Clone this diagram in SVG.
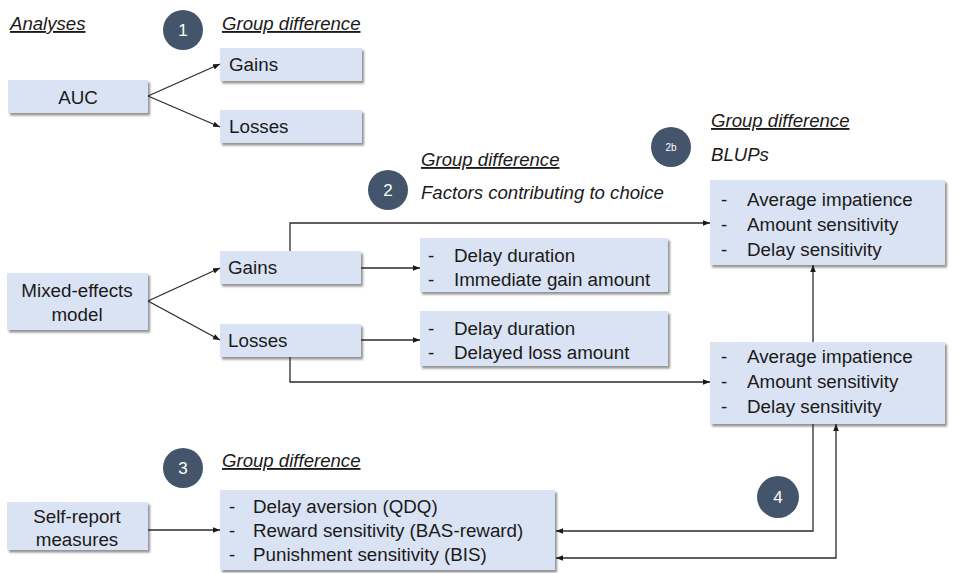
<svg xmlns="http://www.w3.org/2000/svg" width="959" height="573" viewBox="0 0 959 573">
<style>
.box{fill:#dae3f3;filter:url(#sh)}
.t{font-family:"Liberation Sans",Arial,sans-serif;font-size:18.8px;fill:#1a1a1a}
.c{text-anchor:middle}
.h{font-family:"Liberation Sans",Arial,sans-serif;font-size:18.6px;font-style:italic;fill:#1a1a1a}
.u{text-decoration:underline}
.circ{fill:#44546a}
.ct{font-family:"Liberation Sans",Arial,sans-serif;font-size:17px;fill:#ffffff;text-anchor:middle}
.ln{fill:none;stroke:#2b2b2b;stroke-width:1.3}
</style>
<defs>
<filter id="sh" x="-10%" y="-10%" width="130%" height="140%">
<feDropShadow dx="2" dy="2.5" stdDeviation="1.3" flood-color="#7f7f7f" flood-opacity="0.85"/>
</filter>
<marker id="ar" viewBox="0 0 10 10" refX="10" refY="5" markerWidth="7" markerHeight="7" orient="auto-start-reverse" markerUnits="userSpaceOnUse">
<path d="M0,1 L10,5 L0,9 z" fill="#1a1a1a"/>
</marker>
</defs>

<text class="h u" x="10" y="30">Analyses</text>

<g id="circle1"><circle class="circ" cx="183" cy="30" r="20"/><text class="ct" x="183" y="36">1</text></g>
<text class="h u" x="222" y="30">Group difference</text>

<g id="auc"><rect class="box" x="8" y="80" width="140" height="33"/><text class="t c" x="78" y="104">AUC</text></g>
<g id="gains1"><rect class="box" x="220" y="48" width="142" height="33"/><text class="t" x="229" y="71">Gains</text></g>
<g id="losses1"><rect class="box" x="220" y="110" width="142" height="33"/><text class="t" x="229" y="133">Losses</text></g>

<g id="circle2b"><circle class="circ" cx="671" cy="147" r="20"/><text class="ct" x="671" y="151" style="font-size:10px">2b</text></g>
<text class="h u" x="711" y="127">Group difference</text>
<text class="h" x="711" y="161">BLUPs</text>

<g id="circle2"><circle class="circ" cx="388" cy="190" r="20"/><text class="ct" x="388" y="196">2</text></g>
<text class="h u" x="421" y="166">Group difference</text>
<text class="h" x="421" y="199">Factors contributing to choice</text>

<g id="blups1"><rect class="box" x="710" y="180" width="235" height="85"/>
<text class="t" x="721" y="206">-</text><text class="t" x="747" y="206">Average impatience</text>
<text class="t" x="721" y="231">-</text><text class="t" x="747" y="231">Amount sensitivity</text>
<text class="t" x="721" y="256">-</text><text class="t" x="747" y="256">Delay sensitivity</text></g>

<g id="mixed"><rect class="box" x="7" y="273" width="141" height="57"/><text class="t c" x="77" y="297">Mixed-effects</text><text class="t c" x="77" y="321">model</text></g>
<g id="gains2"><rect class="box" x="220" y="251" width="141" height="33"/><text class="t" x="228" y="274">Gains</text></g>
<g id="losses2"><rect class="box" x="220" y="324" width="141" height="33"/><text class="t" x="228" y="347">Losses</text></g>

<g id="factorsG"><rect class="box" x="420" y="238" width="248" height="54"/>
<text class="t" x="428" y="262">-</text><text class="t" x="454" y="262">Delay duration</text>
<text class="t" x="428" y="286">-</text><text class="t" x="454" y="286">Immediate gain amount</text></g>
<g id="factorsL"><rect class="box" x="420" y="311" width="248" height="55"/>
<text class="t" x="428" y="335">-</text><text class="t" x="454" y="335">Delay duration</text>
<text class="t" x="428" y="359">-</text><text class="t" x="454" y="359">Delayed loss amount</text></g>

<g id="blups2"><rect class="box" x="710" y="342" width="235" height="82"/>
<text class="t" x="721" y="363">-</text><text class="t" x="747" y="363">Average impatience</text>
<text class="t" x="721" y="388">-</text><text class="t" x="747" y="388">Amount sensitivity</text>
<text class="t" x="721" y="413">-</text><text class="t" x="747" y="413">Delay sensitivity</text></g>

<g id="circle3"><circle class="circ" cx="183" cy="468" r="20"/><text class="ct" x="183" y="474">3</text></g>
<text class="h u" x="222" y="467">Group difference</text>

<g id="selfreport"><rect class="box" x="7" y="502" width="141" height="48"/><text class="t c" x="77" y="523">Self-report</text><text class="t c" x="77" y="546">measures</text></g>
<g id="measures"><rect class="box" x="220" y="490" width="335" height="80"/>
<text class="t" x="229" y="513">-</text><text class="t" x="253" y="513">Delay aversion (QDQ)</text>
<text class="t" x="229" y="537">-</text><text class="t" x="253" y="537">Reward sensitivity (BAS-reward)</text>
<text class="t" x="229" y="561">-</text><text class="t" x="253" y="561">Punishment sensitivity (BIS)</text></g>

<g id="circle4"><circle class="circ" cx="778" cy="497" r="21"/><text class="ct" x="778" y="503">4</text></g>

<g id="connectors">
<line class="ln" x1="148" y1="96" x2="220" y2="64" marker-end="url(#ar)"/>
<line class="ln" x1="148" y1="96" x2="220" y2="127" marker-end="url(#ar)"/>
<line class="ln" x1="148" y1="301" x2="220" y2="268" marker-end="url(#ar)"/>
<line class="ln" x1="148" y1="301" x2="220" y2="340" marker-end="url(#ar)"/>
<line class="ln" x1="361" y1="268" x2="420" y2="268" marker-end="url(#ar)"/>
<line class="ln" x1="361" y1="340" x2="420" y2="340" marker-end="url(#ar)"/>
<polyline class="ln" points="290,251 290,223 710,223" marker-end="url(#ar)"/>
<polyline class="ln" points="290,357 290,382 710,382" marker-end="url(#ar)"/>
<line class="ln" x1="813" y1="342" x2="813" y2="265" marker-end="url(#ar)"/>
<line class="ln" x1="148" y1="530" x2="220" y2="530" marker-end="url(#ar)"/>
<polyline class="ln" points="813,424 813,531 556,531" marker-end="url(#ar)"/>
<polyline class="ln" points="556,558 836,558 836,424" marker-start="url(#ar)" marker-end="url(#ar)"/>
</g>
</svg>
